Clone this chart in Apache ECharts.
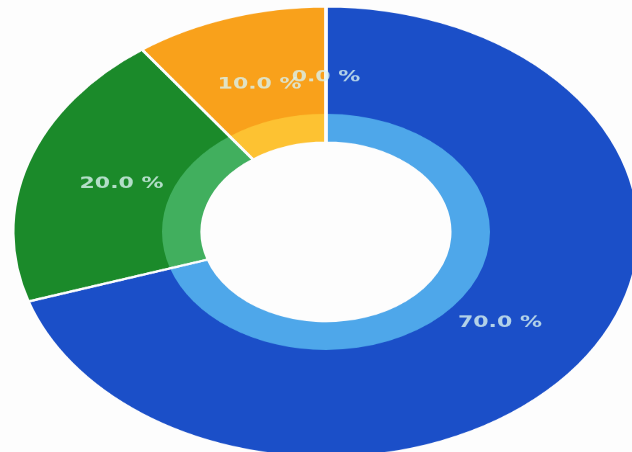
<!DOCTYPE html>
<html>
<head>
<meta charset="utf-8">
<script src="https://cdn.jsdelivr.net/npm/echarts@6/dist/echarts.min.js"></script>
<style>
html,body{margin:0;padding:0;width:632px;height:452px;overflow:hidden;background:#fdfdfd;}
#wrap{width:632px;height:452px;overflow:hidden;}
#chart{width:632px;height:628px;transform:scaleY(0.72);transform-origin:0 0;}
</style>
</head>
<body>
<div id="wrap"><div id="chart"></div></div>
<script>
const categories = ['Blue', 'Green', 'Orange', 'Red'];
const values = [70, 20, 10, 0];
const darkColors = ['#1b4fc8', '#1b8a2a', '#f9a11b', '#e53935'];
const lightColors = ['#4ea7ea', '#41af5e', '#fdc232', '#ef7a75'];

const total = values.reduce((a, b) => a + b, 0);
function mk(colors) {
  return categories.map((c, i) => ({ name: c, value: values[i], itemStyle: { color: colors[i] } }));
}
// label anchors: middle of each slice (in value units along the angle axis)
let acc = 0;
const labelData = values.map((v, i) => {
  const mid = acc + v / 2; acc += v;
  return { name: categories[i], value: [215, mid], pct: v / total * 100 };
});

const chart = echarts.init(document.getElementById('chart'), null, { renderer: 'canvas' });
const center = [326, 322];
const common = { type: 'pie', center: center, startAngle: 90, clockwise: true, silent: true,
  labelLine: { show: false }, label: { show: false } };
chart.setOption({
  animation: false,
  backgroundColor: '#fdfdfd',
  polar: { center: center, radius: 313 },
  angleAxis: { type: 'value', min: 0, max: total, startAngle: 90, clockwise: true, show: false },
  radiusAxis: { type: 'value', min: 0, max: 313, show: false },
  series: [
    Object.assign({}, common, { radius: [162, 313], data: mk(darkColors) }),
    Object.assign({}, common, { radius: [124, 164], data: mk(lightColors) }),
    Object.assign({}, common, {
      radius: [124, 313],
      data: categories.map((c, i) => ({ name: c, value: values[i] })),
      itemStyle: { color: 'rgba(0,0,0,0)', borderColor: '#fdfdfd', borderWidth: 3 }
    }),
    {
      type: 'scatter', coordinateSystem: 'polar', symbolSize: 0, silent: true, z: 10,
      data: labelData,
      label: {
        show: true, position: 'inside', color: '#d9f3f0', fontSize: 22, fontWeight: 'bold',
        fontFamily: 'DejaVu Sans',
        formatter: p => p.data.pct.toFixed(1) + ' %'
      }
    }
  ]
});
</script>
</body>
</html>
